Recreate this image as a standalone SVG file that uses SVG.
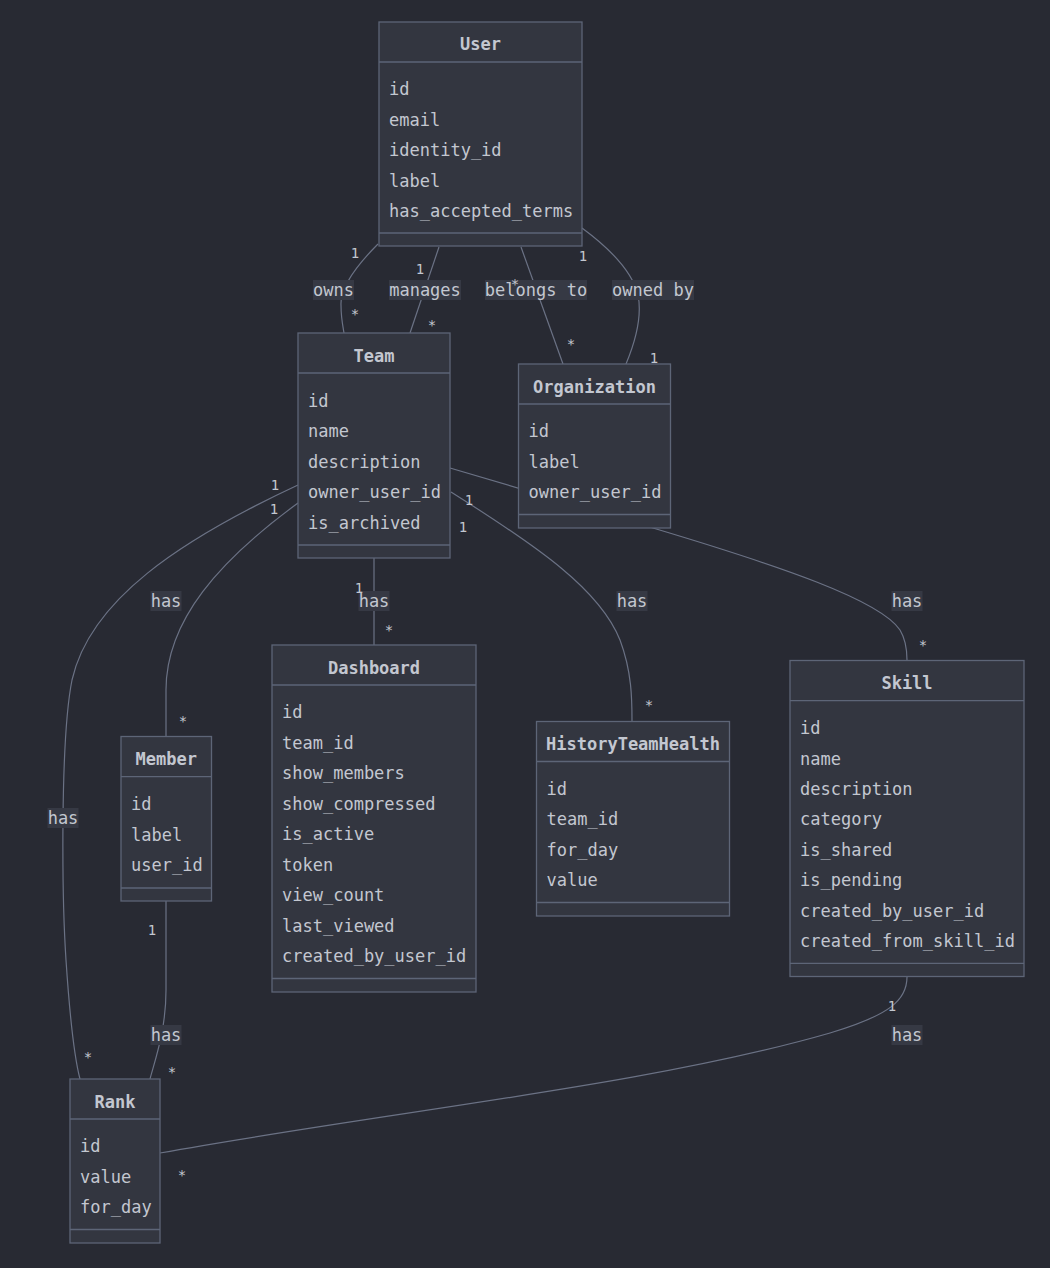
<svg xmlns="http://www.w3.org/2000/svg" width="1050" height="1268" viewBox="0 0 1050 1268">
<style>
text{font-family:"DejaVu Sans Mono","Liberation Mono",monospace;fill:#c3c7d0}
.box{fill:#333640;stroke:#5d6577;stroke-width:1.3}
.div{stroke:#5d6577;stroke-width:1.3}
.title{font-size:17px;font-weight:bold;text-anchor:middle}
.attr{font-size:17px}
.edge{fill:none;stroke:#6b7285;stroke-width:1.2}
.lbg{fill:#363944}
.lbl{font-size:17px;text-anchor:middle}
.card{font-size:14px;text-anchor:middle}
</style>
<rect width="1050" height="1268" fill="#282a33"/>
<g id="connectors">
<path class="edge" d="M378,244 C360,262 340,285 341,305 C341,318 343,327 344,333"/>
<path class="edge" d="M439,247 L410,333"/>
<path class="edge" d="M521,247 L563,364"/>
<path class="edge" d="M582,228 C605,245 632,270 638,295 C642,315 636,340 626,364"/>
<path class="edge" d="M450,468 L653,528 C780,566 880,600 900,630 C906,640 907,650 907,660"/>
<path class="edge" d="M451,492 C540,548 600,590 620,640 C632,672 632,700 632,721"/>
<path class="edge" d="M374,558 L374,645"/>
<path class="edge" d="M298,503 C220,560 166,620 166,690 L166,737"/>
<path class="edge" d="M298,485 C180,540 90,600 72,680 C60,740 62,900 66,960 C70,1020 75,1060 80,1079"/>
<path class="edge" d="M166,901 L166,990 C166,1030 155,1060 150,1079"/>
<path class="edge" d="M907,977 C907,1000 890,1015 830,1033 C650,1085 400,1110 160,1153"/>
<rect class="lbg" x="313" y="280" width="41" height="20"/><text class="lbl" x="333.5" y="295.5">owns</text>
<rect class="lbg" x="389" y="280" width="72" height="20"/><text class="lbl" x="425" y="295.5">manages</text>
<rect class="lbg" x="485" y="280" width="102" height="20"/><text class="lbl" x="536" y="295.5">belongs to</text>
<rect class="lbg" x="612" y="280" width="82" height="20"/><text class="lbl" x="653" y="295.5">owned by</text>
<rect class="lbg" x="150.5" y="591" width="31" height="20"/><text class="lbl" x="166" y="606.5">has</text>
<rect class="lbg" x="358.5" y="591" width="31" height="20"/><text class="lbl" x="374" y="606.5">has</text>
<rect class="lbg" x="616.5" y="591" width="31" height="20"/><text class="lbl" x="632" y="606.5">has</text>
<rect class="lbg" x="891.5" y="591" width="31" height="20"/><text class="lbl" x="907" y="606.5">has</text>
<rect class="lbg" x="47.5" y="808" width="31" height="20"/><text class="lbl" x="63" y="823.5">has</text>
<rect class="lbg" x="150.5" y="1025" width="31" height="20"/><text class="lbl" x="166" y="1040.5">has</text>
<rect class="lbg" x="891.5" y="1025" width="31" height="20"/><text class="lbl" x="907" y="1040.5">has</text>
<text class="card" x="355" y="258">1</text>
<text class="card" x="355" y="319">*</text>
<text class="card" x="420" y="274">1</text>
<text class="card" x="432" y="330">*</text>
<text class="card" x="515" y="289">*</text>
<text class="card" x="571" y="349">*</text>
<text class="card" x="583" y="261">1</text>
<text class="card" x="654" y="363">1</text>
<text class="card" x="275" y="490">1</text>
<text class="card" x="274" y="514">1</text>
<text class="card" x="359" y="593">1</text>
<text class="card" x="389" y="635">*</text>
<text class="card" x="469" y="505">1</text>
<text class="card" x="463" y="532">1</text>
<text class="card" x="649" y="710">*</text>
<text class="card" x="923" y="650">*</text>
<text class="card" x="183" y="726">*</text>
<text class="card" x="152" y="935">1</text>
<text class="card" x="88" y="1062">*</text>
<text class="card" x="172" y="1077">*</text>
<text class="card" x="182" y="1180">*</text>
<text class="card" x="892" y="1011">1</text>
</g>
<g id="User">
<rect class="box" x="379" y="22" width="203" height="224"/>
<line class="div" x1="379" y1="62" x2="582" y2="62"/>
<line class="div" x1="379" y1="233" x2="582" y2="233"/>
<text class="title" x="480.5" y="50">User</text>
<text class="attr" x="389" y="95">id</text>
<text class="attr" x="389" y="125.5">email</text>
<text class="attr" x="389" y="156">identity_id</text>
<text class="attr" x="389" y="186.5">label</text>
<text class="attr" x="389" y="217">has_accepted_terms</text>
</g>
<g id="Team">
<rect class="box" x="298" y="333" width="152" height="225"/>
<line class="div" x1="298" y1="373" x2="450" y2="373"/>
<line class="div" x1="298" y1="545" x2="450" y2="545"/>
<text class="title" x="374" y="361.5">Team</text>
<text class="attr" x="308" y="406.5">id</text>
<text class="attr" x="308" y="437">name</text>
<text class="attr" x="308" y="467.5">description</text>
<text class="attr" x="308" y="498">owner_user_id</text>
<text class="attr" x="308" y="528.5">is_archived</text>
</g>
<g id="Organization">
<rect class="box" x="518.5" y="364" width="152" height="164"/>
<line class="div" x1="518.5" y1="404" x2="670.5" y2="404"/>
<line class="div" x1="518.5" y1="514.5" x2="670.5" y2="514.5"/>
<text class="title" x="594.5" y="392.5">Organization</text>
<text class="attr" x="528.5" y="437.3">id</text>
<text class="attr" x="528.5" y="467.8">label</text>
<text class="attr" x="528.5" y="498.3">owner_user_id</text>
</g>
<g id="Dashboard">
<rect class="box" x="272" y="645" width="204" height="347"/>
<line class="div" x1="272" y1="685" x2="476" y2="685"/>
<line class="div" x1="272" y1="978.5" x2="476" y2="978.5"/>
<text class="title" x="374" y="673.5">Dashboard</text>
<text class="attr" x="282" y="718.3">id</text>
<text class="attr" x="282" y="748.8">team_id</text>
<text class="attr" x="282" y="779.2">show_members</text>
<text class="attr" x="282" y="809.7">show_compressed</text>
<text class="attr" x="282" y="840.1">is_active</text>
<text class="attr" x="282" y="870.6">token</text>
<text class="attr" x="282" y="901">view_count</text>
<text class="attr" x="282" y="931.5">last_viewed</text>
<text class="attr" x="282" y="961.9">created_by_user_id</text>
</g>
<g id="Member">
<rect class="box" x="121" y="736.5" width="90.5" height="164.5"/>
<line class="div" x1="121" y1="776.7" x2="211.5" y2="776.7"/>
<line class="div" x1="121" y1="888" x2="211.5" y2="888"/>
<text class="title" x="166.3" y="765">Member</text>
<text class="attr" x="131" y="810">id</text>
<text class="attr" x="131" y="840.5">label</text>
<text class="attr" x="131" y="871">user_id</text>
</g>
<g id="HistoryTeamHealth">
<rect class="box" x="536.5" y="721.5" width="193" height="194.5"/>
<line class="div" x1="536.5" y1="761.5" x2="729.5" y2="761.5"/>
<line class="div" x1="536.5" y1="902.5" x2="729.5" y2="902.5"/>
<text class="title" x="633" y="750">HistoryTeamHealth</text>
<text class="attr" x="546.5" y="794.8">id</text>
<text class="attr" x="546.5" y="825.3">team_id</text>
<text class="attr" x="546.5" y="855.7">for_day</text>
<text class="attr" x="546.5" y="886.2">value</text>
</g>
<g id="Skill">
<rect class="box" x="790" y="660.5" width="234" height="316"/>
<line class="div" x1="790" y1="700.7" x2="1024" y2="700.7"/>
<line class="div" x1="790" y1="963.3" x2="1024" y2="963.3"/>
<text class="title" x="907" y="689">Skill</text>
<text class="attr" x="800" y="734">id</text>
<text class="attr" x="800" y="764.5">name</text>
<text class="attr" x="800" y="794.9">description</text>
<text class="attr" x="800" y="825.4">category</text>
<text class="attr" x="800" y="855.8">is_shared</text>
<text class="attr" x="800" y="886.3">is_pending</text>
<text class="attr" x="800" y="916.7">created_by_user_id</text>
<text class="attr" x="800" y="947.2">created_from_skill_id</text>
</g>
<g id="Rank">
<rect class="box" x="70" y="1079" width="90" height="164"/>
<line class="div" x1="70" y1="1119" x2="160" y2="1119"/>
<line class="div" x1="70" y1="1229.5" x2="160" y2="1229.5"/>
<text class="title" x="115" y="1107.5">Rank</text>
<text class="attr" x="80" y="1152">id</text>
<text class="attr" x="80" y="1182.5">value</text>
<text class="attr" x="80" y="1213">for_day</text>
</g>
</svg>
